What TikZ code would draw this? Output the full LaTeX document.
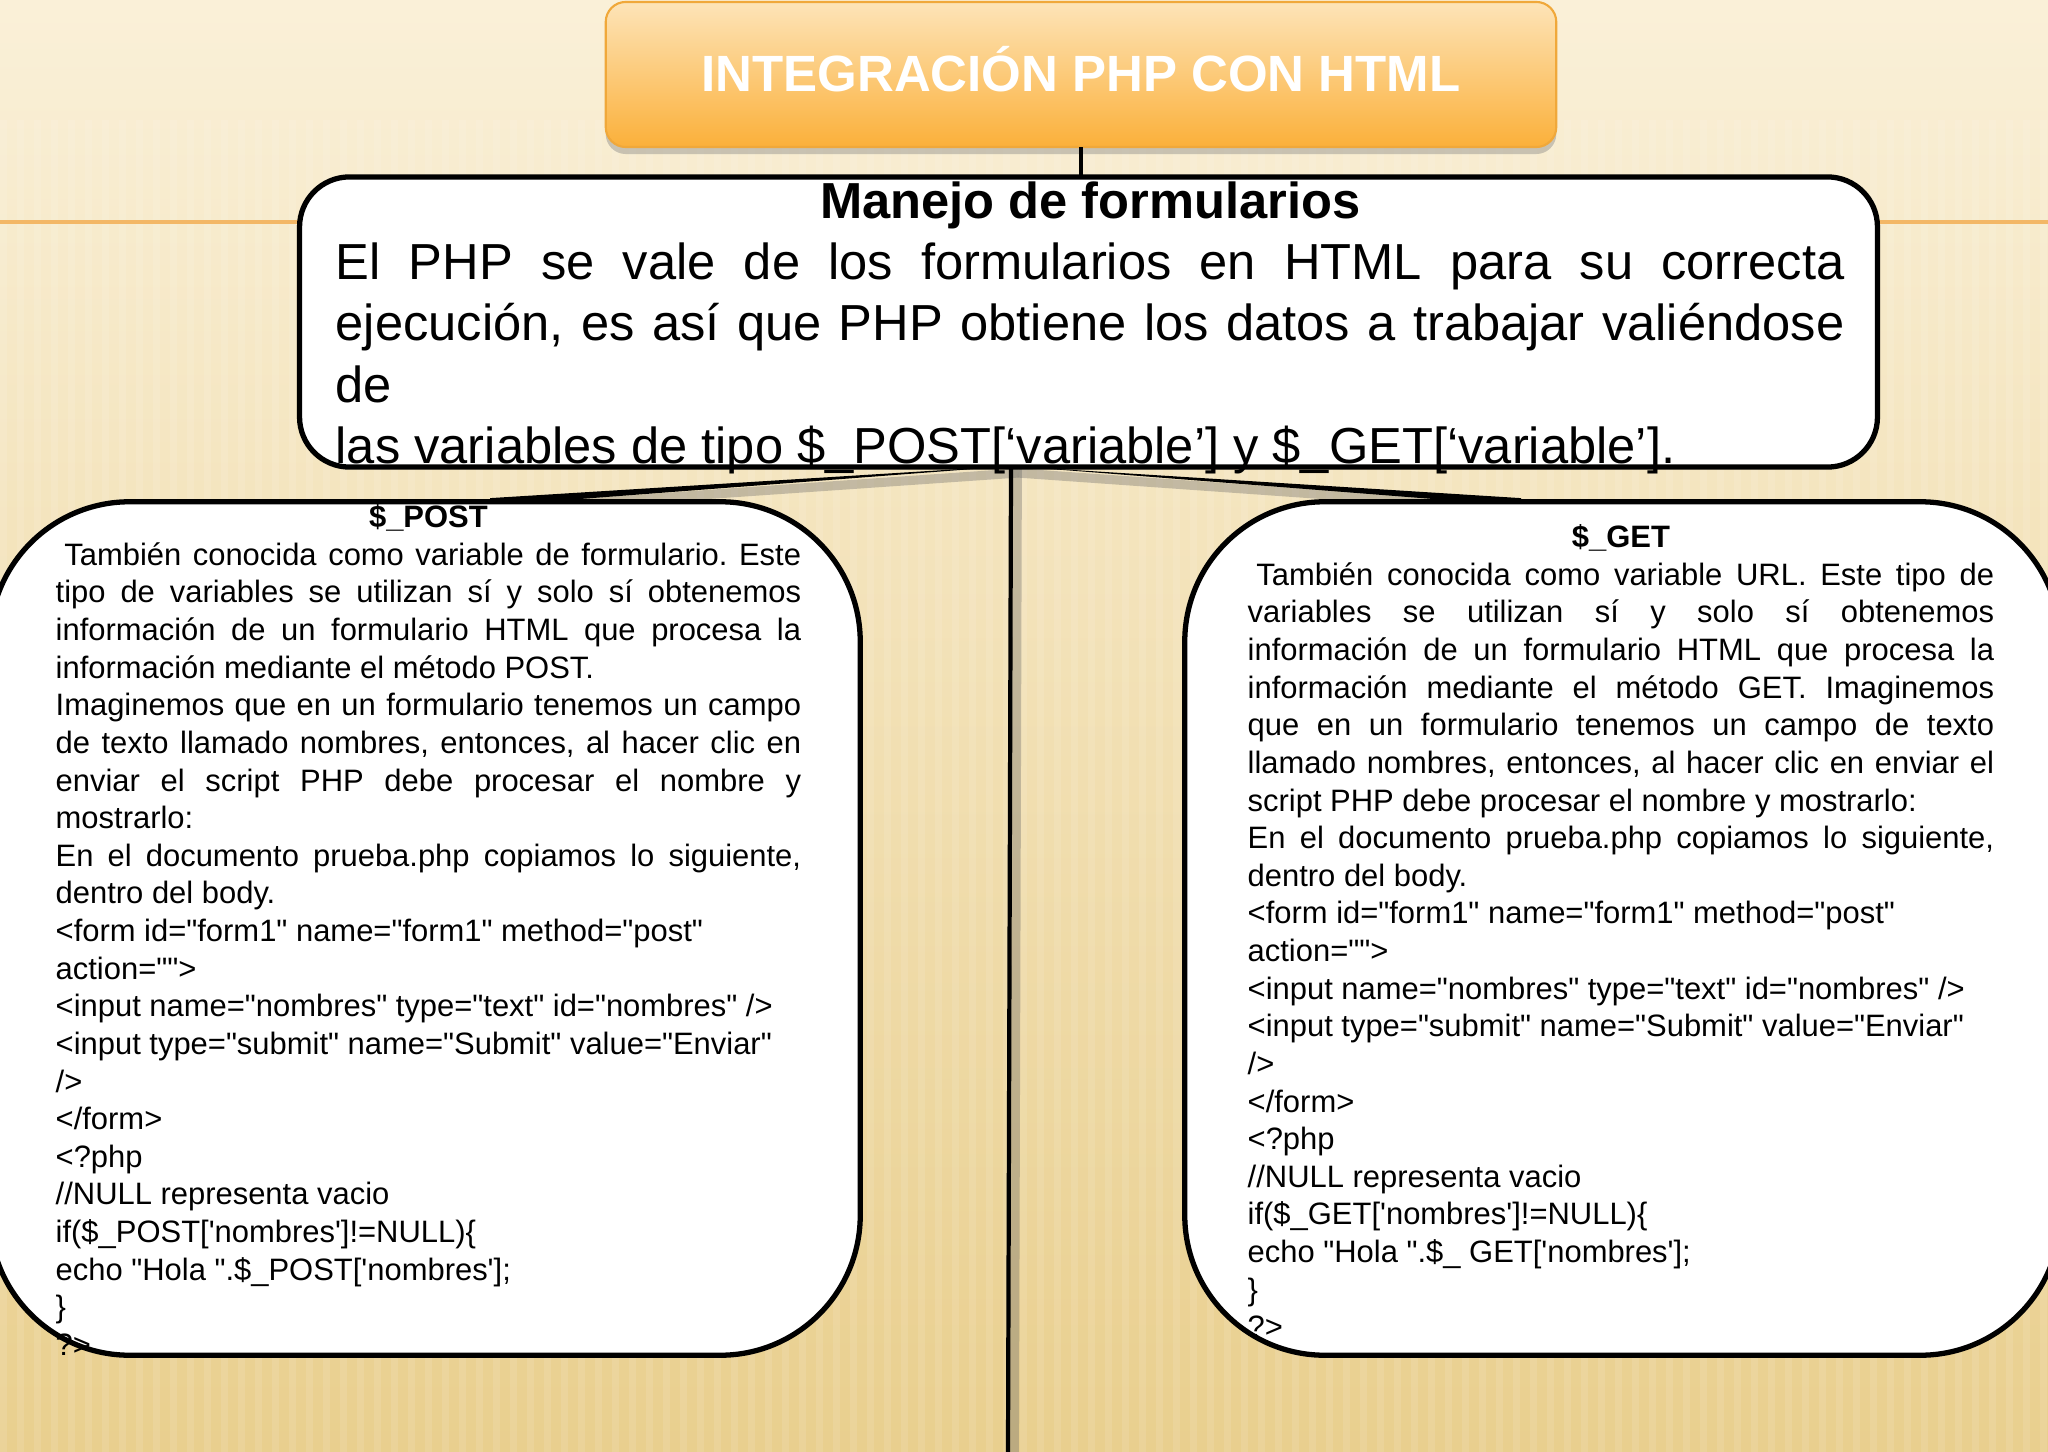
\documentclass[tikz,border=0pt]{standalone}
\usepackage{fontspec}
\newfontfamily\arial{Liberation Sans}
\usetikzlibrary{shadows}
\frenchspacing
\definecolor{bgtop}{HTML}{FAF0D8}
\definecolor{bgmid}{HTML}{F1DCA8}
\definecolor{bgbot}{HTML}{E9CF8E}
\definecolor{ttop}{HTML}{FDE4B8}
\definecolor{tbot}{HTML}{FBB03A}
\definecolor{tborder}{HTML}{F0A83A}
\definecolor{orline}{HTML}{F3B766}
\tikzset{
  roundbox/.style={draw=black, line width=1.5pt, fill=white, inner sep=0pt, outer sep=0pt},
  conn/.style={draw=black, line width=1.2pt},
  connshadow/.style={draw=black!60, opacity=.35, line width=2.6pt},
  wedge/.style={fill=black},
  boxtext/.style={font={\arial\fontsize{8.8}{10.7}\selectfont\frenchspacing\hyphenpenalty=10000\exhyphenpenalty=10000},
    text width=7.45cm, align=justify, inner sep=0pt, anchor=north west},
  maintext/.style={font={\arial\fontsize{14.4}{17.4}\selectfont\frenchspacing\hyphenpenalty=10000\exhyphenpenalty=10000},
    text width=15.08cm, align=justify, inner sep=0pt, anchor=north west},
  titletext/.style={font={\arial\bfseries\fontsize{14.5}{17}\selectfont}, text=white, anchor=base, inner sep=0pt},
}
\begin{document}
\begin{tikzpicture}[x=0.01cm, y=-0.01cm]
\useasboundingbox (0,0) rectangle (2048,1452);
\clip (0,0) rectangle (2048,1452);
% background
\shade[top color=bgtop, middle color=bgmid, bottom color=bgbot] (0,0) rectangle (2048,1452);
\foreach \i in {0,17,...,2040} {\fill[white, opacity=.10] (\i,120) rectangle ++(7,1332);}
\draw[orline, line width=1.2pt] (0,222) -- (2048,222);

% named coordinates for connectors
\coordinate (hub) at (1011,466);
\coordinate (lend) at (490,502);
\coordinate (rend) at (1521,502);
\coordinate (bend) at (1008,1452);

% connectors (shadows first)
\draw[connshadow] ([xshift=2pt,yshift=-2pt]hub) -- ([xshift=2pt,yshift=-2pt]lend);
\draw[connshadow] ([xshift=2pt,yshift=-2pt]hub) -- ([xshift=2pt,yshift=-2pt]rend);
\draw[connshadow] ([xshift=1.8pt]hub) -- ([xshift=1.8pt]bend);
\fill[wedge] ([xshift=-0.4pt]hub) -- ([yshift=1.1pt]lend) -- ([yshift=-1.1pt]lend) -- ([xshift=0.4pt]hub) -- cycle;
\fill[wedge] ([xshift=-0.4pt]hub) -- ([yshift=1.1pt]rend) -- ([yshift=-1.1pt]rend) -- ([xshift=0.4pt]hub) -- cycle;
\draw[conn] (hub) -- (bend);

% boxes
\node[roundbox, rounded corners=0.5cm, minimum width=15.77cm, minimum height=2.9cm] (main) at (1088.5,322) {};
\node[roundbox, rounded corners=1.4cm, minimum width=8.7cm, minimum height=8.53cm] (lbox) at (425,928.5) {};
\node[roundbox, rounded corners=1.4cm, minimum width=8.75cm, minimum height=8.53cm] (rbox) at (1622.5,928.5) {};

% title box
\node[draw=tborder, line width=0.6pt, rounded corners=0.2cm, top color=ttop, bottom color=tbot,
      minimum width=9.5cm, minimum height=1.45cm, inner sep=0pt, outer sep=0pt,
      drop shadow={shadow xshift=0pt, shadow yshift=-0.07cm, opacity=.4}] (title) at (1081,74.5) {};
\draw[conn] (title.south) -- (title.south |- main.north);
\node[titletext] (ttl) at (1081,92) {INTEGRACIÓN PHP CON HTML};

% main text
\node[maintext] (mtext) at (335,175) {%
\makebox[\linewidth]{\strut\bfseries Manejo de formularios}\par
El PHP se vale de los formularios en HTML para su correcta\linebreak
ejecución, es así que PHP obtiene los datos a trabajar valiéndose\linebreak
de\par
las variables de tipo \$\_POST[‘variable’] y \$\_GET[‘variable’].};

% left text
\node[boxtext] (ltext) at (55,500.6) {%
\makebox[\linewidth]{\strut\bfseries \$\_POST}\par
\hspace*{0.28em}También conocida como variable de formulario. Este\linebreak
tipo de variables se utilizan sí y solo sí obtenemos\linebreak
información de un formulario HTML que procesa la\linebreak
información mediante el método POST.\par
Imaginemos que en un formulario tenemos un campo\linebreak
de texto llamado nombres, entonces, al hacer clic en\linebreak
enviar el script PHP debe procesar el nombre y\linebreak
mostrarlo:\par
En el documento prueba.php copiamos lo siguiente,\linebreak
dentro del body.\par
<form id="form1" name="form1" method="post"\par
action="">\par
<input name="nombres" type="text" id="nombres" />\par
<input type="submit" name="Submit" value="Enviar"\par
/>\par
</form>\par
<?php\par
//NULL representa vacio\par
if(\$\_POST['nombres']!=NULL)\{\par
echo "Hola ".\$\_POST['nombres'];\par
\}\par
?>};

% right text
\node[boxtext, text width=7.46cm] (rtext) at (1247,520.6) {%
\makebox[\linewidth]{\strut\bfseries \$\_GET}\par
\hspace*{0.28em}También conocida como variable URL. Este tipo de\linebreak
variables se utilizan sí y solo sí obtenemos\linebreak
información de un formulario HTML que procesa la\linebreak
información mediante el método GET. Imaginemos\linebreak
que en un formulario tenemos un campo de texto\linebreak
llamado nombres, entonces, al hacer clic en enviar el\linebreak
script PHP debe procesar el nombre y mostrarlo:\par
En el documento prueba.php copiamos lo siguiente,\linebreak
dentro del body.\par
<form id="form1" name="form1" method="post"\par
action="">\par
<input name="nombres" type="text" id="nombres" />\par
<input type="submit" name="Submit" value="Enviar"\par
/>\par
</form>\par
<?php\par
//NULL representa vacio\par
if(\$\_GET['nombres']!=NULL)\{\par
echo "Hola ".\$\_ GET['nombres'];\par
\}\par
?>};
\end{tikzpicture}
\end{document}
